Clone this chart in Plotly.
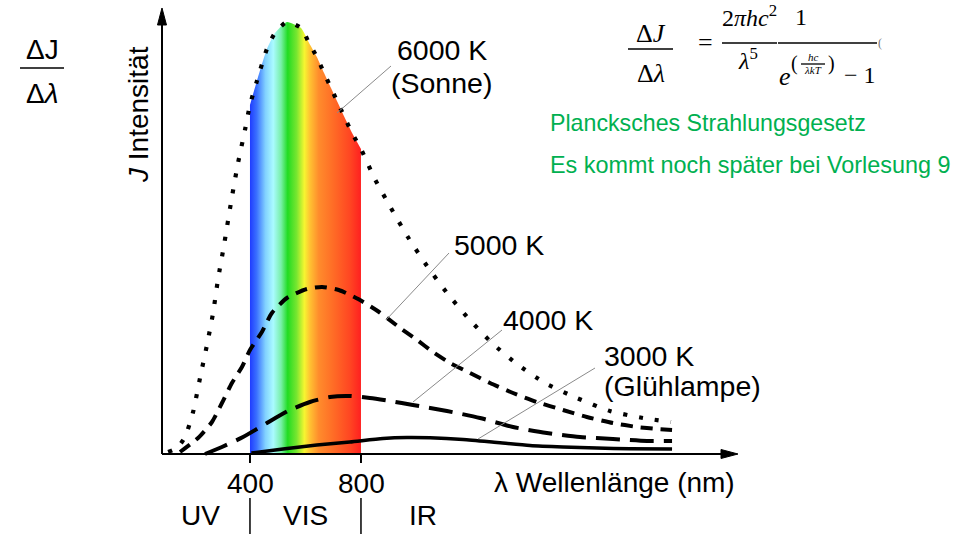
import plotly.graph_objects as go

# ---------------- data ----------------
# wavelength (nm) and relative spectral intensity (a.u.)
wl_6000 = [105, 137, 166, 195, 220, 245, 267, 285, 306, 335, 357, 382, 400, 425, 461,
           490, 533, 584, 613, 641, 667, 692, 717, 742, 768, 800, 850, 908, 969, 1038,
           1110, 1186, 1272, 1362, 1463, 1578, 1697, 1816, 1917]
I_6000 = [2, 6, 17, 42, 76, 109, 141, 175, 208, 257, 291, 324, 349, 373, 405,
          421, 432, 426, 411, 397, 381, 366, 351, 336, 321, 305, 275, 246, 217, 188,
          161, 136, 111, 90, 71, 56, 43, 36, 32]

wl_5000 = [148, 213, 263, 299, 335, 371, 400, 443, 479, 533, 605, 660, 720, 790, 860,
           941, 1002, 1059, 1121, 1193, 1265, 1348, 1434, 1528, 1614, 1708, 1795, 1867, 1921]
I_5000 = [2, 16, 32, 51, 71, 87, 104, 122, 141, 156, 165, 167, 164, 155, 143,
          126, 114, 102, 91, 81, 71, 61, 52, 44, 37, 31, 27, 25, 24]

wl_4000 = [238, 299, 375, 461, 544, 616, 688, 760, 832, 905, 987, 1110, 1229, 1348,
           1470, 1589, 1708, 1831, 1921]
I_4000 = [0, 7, 17, 31, 44, 52, 57, 58, 56, 53, 49, 43, 36, 27,
          21, 17, 15, 13, 13]

wl_3000 = [405, 519, 641, 760, 879, 966, 1049, 1168, 1290, 1409, 1528, 1650, 1769, 1921]
I_3000 = [1, 5, 9, 12, 15.5, 16.5, 16.2, 14.5, 11.5, 8.5, 7, 6, 5.2, 5]

tick_vals = [400, 800]
tick_text = ["400", "800"]
regions = ["UV", "VIS", "IR"]
vis_range = (400, 800)

# ---------------- layout mapping (pixels of the 970x534 page) ----------------
W, H = 970, 534
AX_PX, AX_PY = 162, 454          # position of the axis origin
PX_PER_NM = 0.2775
LAM0 = 83                        # wavelength at the y-axis


def lam_at(px):
    return LAM0 + (px - AX_PX) / PX_PER_NM


def val_at(py):
    return AX_PY - py


def P(px, py):
    return px / W, 1 - py / H


SANS = "Liberation Sans, Arial, sans-serif"
SERIF = "Liberation Serif, Times New Roman, serif"
GREEN = "#00b050"

fig = go.Figure()

# visible spectrum under the 6000 K curve
vis_wl = [w for w in wl_6000 if vis_range[0] <= w <= vis_range[1]]
vis_I = [i for w, i in zip(wl_6000, I_6000) if vis_range[0] <= w <= vis_range[1]]
spec = [
    [0.00, "#1f3cff"], [0.06, "#3a70ff"], [0.14, "#82d2ff"], [0.21, "#aafbff"],
    [0.28, "#78f0a8"], [0.34, "#22dc22"], [0.42, "#78e630"], [0.49, "#f6f630"],
    [0.54, "#ffc232"], [0.62, "#ff8c2c"], [0.75, "#ff6c26"], [0.90, "#ff4622"],
    [1.00, "#ff2020"],
]
fig.add_trace(go.Scatter(
    x=vis_wl, y=vis_I, mode="lines", line=dict(width=0, shape="spline", smoothing=0.5),
    fill="tozeroy", fillgradient=dict(type="horizontal", colorscale=spec),
    hoverinfo="skip", showlegend=False))

series = [
    (wl_6000, I_6000, "4px,12px", 4.2),
    (wl_5000, I_5000, "12px,8px", 4),
    (wl_4000, I_4000, "24px,10px", 4),
    (wl_3000, I_3000, "solid", 3.5),
]
for wl, I, dash, w in series:
    fig.add_trace(go.Scatter(
        x=wl, y=I, mode="lines",
        line=dict(color="black", width=w, dash=dash, shape="spline", smoothing=0.6),
        hoverinfo="skip", showlegend=False))

shapes = []


def pline(x0, y0, x1, y1, color="black", width=1.3):
    shapes.append(dict(type="line", xref="paper", yref="paper",
                       x0=x0 / W, x1=x1 / W, y0=1 - y0 / H, y1=1 - y1 / H,
                       line=dict(color=color, width=width)))


def ppath(pts):
    d = "M " + " L ".join(f"{x / W:.5f},{1 - y / H:.5f}" for x, y in pts) + " Z"
    shapes.append(dict(type="path", xref="paper", yref="paper", path=d,
                       fillcolor="black", line=dict(color="black", width=1)))


# axes with arrowheads
pline(AX_PX, AX_PY, 726, AX_PY, width=2)
ppath([(738, AX_PY), (721, AX_PY - 4.5), (721, AX_PY + 4.5)])
pline(AX_PX, AX_PY, AX_PX, 20, width=2)
ppath([(AX_PX, 8), (AX_PX - 4.5, 25), (AX_PX + 4.5, 25)])

# tick marks and region separators
for tv in tick_vals:
    shapes.append(dict(type="line", xref="x", yref="y", x0=tv, x1=tv,
                       y0=val_at(AX_PY), y1=val_at(463), line=dict(color="black", width=2)))
    shapes.append(dict(type="line", xref="x", yref="y", x0=tv, x1=tv,
                       y0=val_at(498), y1=val_at(534), line=dict(color="black", width=1.5)))

# leader lines (pixel endpoints: label side -> curve side)
leaders = [((391, 66), (337, 113)), ((449, 253), (386, 320)),
           ((502, 330), (413, 402)), ((595, 368), (478, 439))]
for (a, b) in leaders:
    pline(a[0], a[1], b[0], b[1], color="#8a8a8a", width=1)

# fraction bars
for (x0, x1, y) in [(20, 64, 68), (628, 673, 49), (722, 777, 43), (778, 877, 43), (801, 825, 64)]:
    pline(x0, y, x1, y)

annotations = []


def txt(px, py, text, size, color="black", family=SANS, xanchor="center", angle=0):
    x, y = P(px, py)
    annotations.append(dict(x=x, y=y, xref="paper", yref="paper", text=text,
                            showarrow=False, xanchor=xanchor, yanchor="middle",
                            textangle=angle, font=dict(size=size, color=color, family=family)))


# tick labels and regions
for tv, tt in zip(tick_vals, tick_text):
    txt(AX_PX + (tv - LAM0) * PX_PER_NM + 1, 483, tt, 28)
txt(200, 515, regions[0], 28)
txt(305, 515, regions[1], 28)
txt(423, 515, regions[2], 28)
txt(737, 482, "λ Wellenlänge (nm)", 28, xanchor="right")
txt(139, 115, "<i>J</i> Intensität", 28, angle=-90)

# curve labels
txt(395, 50, "6000 K", 28.5, xanchor="left")
txt(389, 83, "(Sonne)", 28.5, xanchor="left")
txt(452, 245, "5000 K", 28.5, xanchor="left")
txt(501, 320, "4000 K", 28.5, xanchor="left")
txt(602, 356, "3000 K", 28.5, xanchor="left")
txt(602, 386, "(Glühlampe)", 28.5, xanchor="left")

# green notes
txt(548, 123, "Plancksches Strahlungsgesetz", 23.2, color=GREEN, xanchor="left")
txt(548, 165, "Es kommt noch später bei Vorlesung 9", 23.4, color=GREEN, xanchor="left")

# left fraction
txt(42, 49, "ΔJ", 28)
txt(42, 94, "Δ<i>λ</i>", 28)

# formula
txt(651, 33, "Δ<i>J</i>", 26, family=SERIF)
txt(651, 73, "Δ<i>λ</i>", 26, family=SERIF)
txt(705, 43, "=", 26, family=SERIF)
txt(749, 16, "2<i>πhc</i><sup>2</sup>", 24, family=SERIF)
txt(748, 59, "<i>λ</i><sup>5</sup>", 24, family=SERIF)
txt(801, 17, "1", 24, family=SERIF)
txt(785, 76, "<i>e</i>", 26, family=SERIF)
txt(794, 64, "(", 20, family=SERIF)
txt(813, 57, "<i>hc</i>", 11, family=SERIF)
txt(813, 70, "<i>λkT</i>", 11, family=SERIF)
txt(831, 64, ")", 20, family=SERIF)
txt(860, 75, "− 1", 24, family=SERIF)
txt(880, 43, "(", 12, color="#777777", family=SERIF)

fig.update_layout(
    width=W, height=H, margin=dict(l=0, r=0, t=0, b=0),
    paper_bgcolor="white", plot_bgcolor="white",
    xaxis=dict(range=[lam_at(0), lam_at(W)], visible=False, fixedrange=True),
    yaxis=dict(range=[val_at(H), val_at(0)], visible=False, fixedrange=True),
    shapes=shapes, annotations=annotations, showlegend=False, hovermode=False,
)

fig.write_html("out.html", config={"displayModeBar": False})
